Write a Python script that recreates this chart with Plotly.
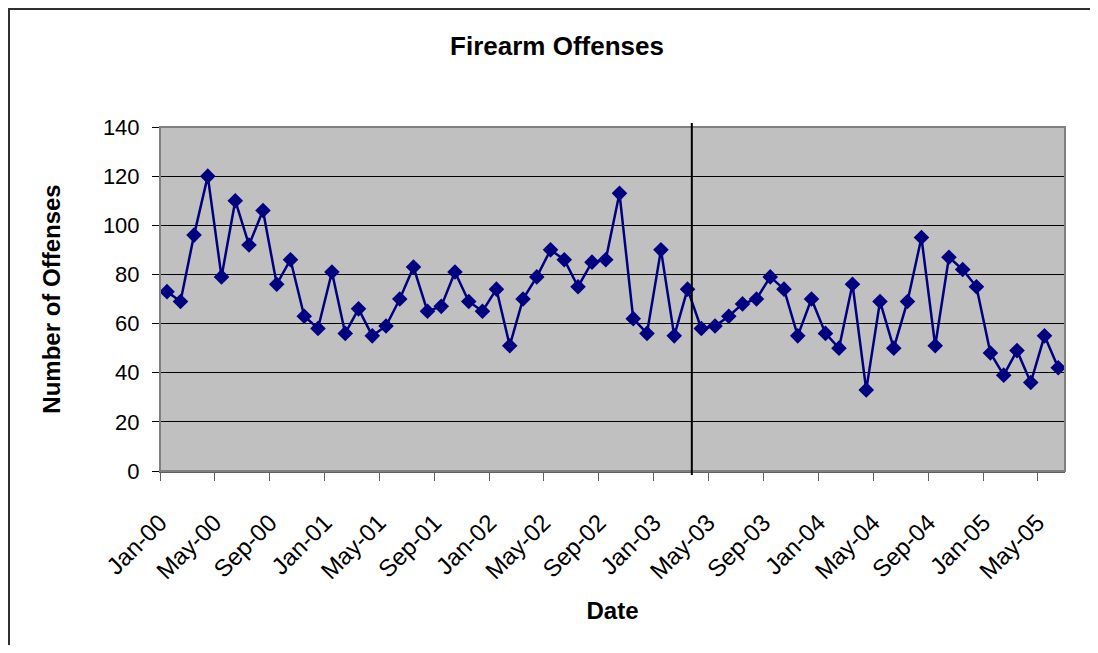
import pandas as pd
import plotly.graph_objects as go

# ---- data ----
months = pd.date_range("2000-01-01", "2005-06-01", freq="MS")
offenses = [73, 69, 96, 120, 79, 110, 92, 106, 76, 86, 63, 58,
            81, 56, 66, 55, 59, 70, 83, 65, 67, 81, 69, 65,
            74, 51, 70, 79, 90, 86, 75, 85, 86, 113, 62, 56,
            90, 55, 74, 58, 59, 63, 68, 70, 79, 74, 55, 70,
            56, 50, 76, 33, 69, 50, 69, 95, 51, 87, 82, 75,
            48, 39, 49, 36, 55, 42]
cutoff_date = "2003-03-26"
title_text = "Firearm Offenses"
x_title = "Date"
y_title = "Number of Offenses"

FONT = "Liberation Sans, Arial, sans-serif"
NAVY = "#000080"

fig = go.Figure()
fig.add_trace(go.Scatter(
    x=months, y=offenses, mode="lines+markers",
    xperiod="M1", xperiodalignment="middle",
    line=dict(color=NAVY, width=2.5),
    marker=dict(symbol="diamond", size=12, color=NAVY),
    showlegend=False, cliponaxis=False,
))

OFF = 8  # page body margin
W, H = 1082, 637
L, R, T, B = 152, 25, 119, 174
pw, ph = W - L - R, H - T - B

def px_x(p):  # screen px -> paper x
    return (p - OFF - L) / pw

def px_y(p):  # screen px -> paper y
    return (H - B - (p - OFF)) / ph

border_path = "M {:.5f},{:.5f} L {:.5f},{:.5f} L {:.5f},{:.5f}".format(
    px_x(9), px_y(8 + H), px_x(9), px_y(9), px_x(8 + W), px_y(9))

fig.update_layout(
    width=W, height=H,
    margin=dict(l=L, r=R, t=T, b=B),
    paper_bgcolor="white", plot_bgcolor="#C0C0C0",
    font=dict(family=FONT, color="black", size=22),
    title=dict(text="<b>" + title_text + "</b>", x=(557 - OFF) / W, xanchor="center",
               y=1 - (46 - OFF) / H, yanchor="middle", font=dict(size=26)),
    xaxis=dict(
        type="date", range=["2000-01-01", "2005-07-01"],
        tick0="2000-01-01", dtick="M4", tickformat="%b-%y", tickangle=-45,
        tickfont=dict(size=24),
        showgrid=False, showline=True, linecolor="#606060", linewidth=2,
        ticks="outside", ticklen=8, tickcolor="#606060", tickwidth=1,
        ticklabelstandoff=18,
        title=dict(text="<b>" + x_title + "</b>", font=dict(size=24), standoff=19),
        zeroline=False,
    ),
    yaxis=dict(
        range=[0, 140], dtick=20, showgrid=True, gridcolor="black", gridwidth=1,
        showline=True, linecolor="black", linewidth=1,
        ticks="outside", ticklen=7, tickcolor="black",
        ticklabelstandoff=8,
        title=dict(text="<b>" + y_title + "</b>", font=dict(size=24), standoff=35),
        zeroline=False,
    ),
    shapes=[
        # plot area border
        dict(type="rect", xref="paper", yref="paper", x0=0, x1=1, y0=0, y1=1,
             line=dict(color="#808080", width=2), layer="above"),
        # cutoff line
        dict(type="line", xref="x", yref="paper", x0=cutoff_date, x1=cutoff_date,
             y0=px_y(475), y1=px_y(123), line=dict(color="black", width=2)),
        # chart outer border: left and top edges only
        dict(type="path", xref="paper", yref="paper", path=border_path,
             fillcolor="rgba(0,0,0,0)", line=dict(color="#303030", width=2)),
    ],
)

fig.write_html("out.html")
